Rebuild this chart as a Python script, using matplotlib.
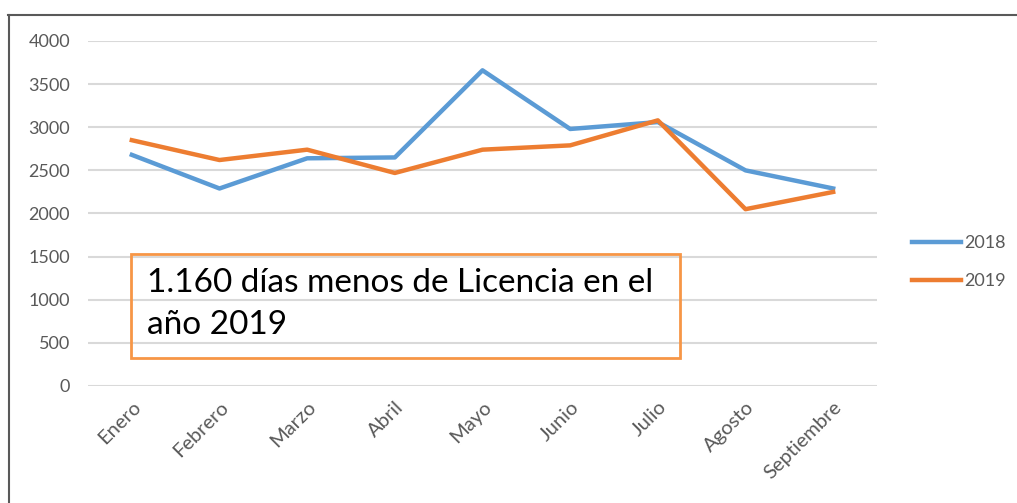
import matplotlib.pyplot as plt
from matplotlib.patches import Rectangle
from matplotlib.lines import Line2D

# monthly days of leave
months = ["Enero", "Febrero", "Marzo", "Abril", "Mayo", "Junio", "Julio", "Agosto", "Septiembre"]
dias_2018 = [2680, 2290, 2640, 2650, 3660, 2980, 3060, 2500, 2290]
dias_2019 = [2850, 2620, 2740, 2470, 2740, 2790, 3080, 2050, 2250]
note = "1.160 días menos de Licencia en el\naño 2019"

plt.rcParams['font.family'] = ['Lato', 'DejaVu Sans']

W, H = 1017, 503
fig = plt.figure(figsize=(W / 100, H / 100), dpi=100)
ax = fig.add_axes([88 / W, 1 - 386 / H, (877 - 88) / W, (386 - 41) / H])

x = range(len(months))
ax.plot(x, dias_2018, color='#5B9BD5', linewidth=3.2, label='2018')
ax.plot(x, dias_2019, color='#ED7D31', linewidth=3.2, label='2019')

ax.set_xlim(-0.5, len(months) - 0.5)
ax.set_ylim(0, 4000)
ax.set_yticks(range(0, 4001, 500))
ax.set_xticks(list(x))
ax.set_xticklabels(months, rotation=45, ha='right', rotation_mode='anchor')
ax.yaxis.grid(True, color='#d9d9d9', linewidth=1.5)
ax.set_axisbelow(True)
for s in ax.spines.values():
    s.set_visible(False)
ax.tick_params(axis='both', length=0, colors='#595959')
ax.tick_params(axis='y', pad=13, labelsize=13)
ax.tick_params(axis='x', pad=9, labelsize=14.5)

ax.legend(loc='center left', bbox_to_anchor=(896 / W, 1 - 262 / H), bbox_transform=fig.transFigure,
          frameon=False, fontsize=13, labelcolor='#595959', handlelength=2.7, handletextpad=0.15,
          labelspacing=1.2)

# annotation box
fig.patches.append(Rectangle((131 / W, 1 - 358 / H), (680 - 131) / W, (358 - 254) / H,
                             transform=fig.transFigure, fill=False, edgecolor='#F79646', linewidth=2))
fig.text(147 / W, 1 - 304 / H, note, fontsize=24, color='black', va='center', ha='left',
         linespacing=1.5)

# outer frame
fig.add_artist(Line2D([8 / W, 1], [1 - 15 / H, 1 - 15 / H], transform=fig.transFigure,
                      color='#595959', linewidth=1.5))
fig.add_artist(Line2D([9 / W, 9 / W], [0, 1 - 15 / H], transform=fig.transFigure,
                      color='#595959', linewidth=1.5))

fig.savefig('out.png', dpi=100)
